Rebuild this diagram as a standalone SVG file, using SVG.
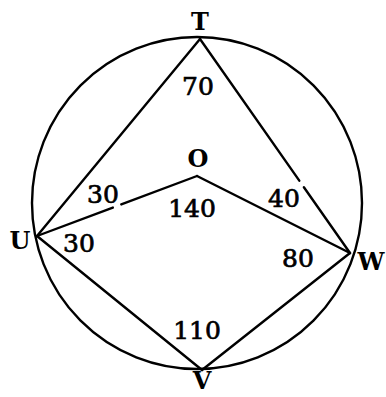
<svg xmlns="http://www.w3.org/2000/svg" width="386" height="397" viewBox="0 0 386 397">
<style>
.ln{stroke:#000;stroke-width:2.4;fill:none;stroke-linecap:round}
.lbl{font-family:"DejaVu Serif","Liberation Serif",serif;font-size:25px;fill:#000;stroke:#000;stroke-width:0.7;text-anchor:middle}
.pt{font-family:"DejaVu Serif","Liberation Serif",serif;font-size:24px;font-weight:bold;fill:#000;text-anchor:middle}
</style>
<rect width="386" height="397" fill="#fff"/>
<g id="circle"><ellipse class="ln" cx="197" cy="203" rx="165" ry="166"/></g>
<g id="connectors">
<line class="ln" x1="200" y1="39" x2="37" y2="236"/>
<line class="ln" x1="200" y1="39" x2="350" y2="253" stroke-dasharray="173 8 300"/>
<line class="ln" x1="37" y1="236" x2="197" y2="176" stroke-dasharray="81 9 300"/>
<line class="ln" x1="197" y1="176" x2="350" y2="253"/>
<line class="ln" x1="37" y1="236" x2="202" y2="370"/>
<line class="ln" x1="202" y1="370" x2="350" y2="253"/>
</g>
<g id="T"><text class="pt" x="200" y="30">T</text></g>
<g id="O"><text class="pt" x="198" y="167" font-size="21">O</text></g>
<g id="U"><text class="pt" x="20" y="249">U</text></g>
<g id="V"><text class="pt" x="202" y="389" font-size="22">V</text></g>
<g id="W"><text class="pt" x="371" y="270">W</text></g>
<g id="angles">
<text class="lbl" x="198" y="95">70</text>
<text class="lbl" x="192" y="217">140</text>
<text class="lbl" x="197" y="339">110</text>
<text class="lbl" x="103" y="203">30</text>
<text class="lbl" x="79" y="252">30</text>
<text class="lbl" x="284" y="207">40</text>
<text class="lbl" x="298" y="267">80</text>
</g>
</svg>
